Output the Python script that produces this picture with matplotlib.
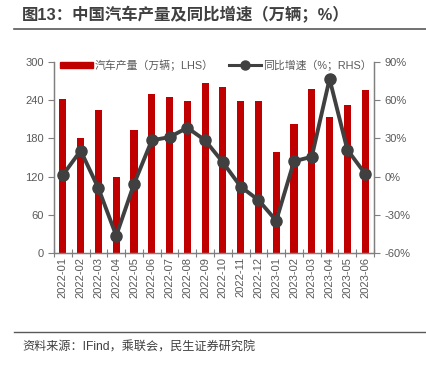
import matplotlib
matplotlib.use("Agg")
import matplotlib.pyplot as plt
import numpy as np
from matplotlib.lines import Line2D

plt.rcParams['font.family'] = ['Liberation Sans', 'Noto Sans CJK SC', 'DejaVu Sans']

months = ["2022-01", "2022-02", "2022-03", "2022-04", "2022-05", "2022-06",
          "2022-07", "2022-08", "2022-09", "2022-10", "2022-11", "2022-12",
          "2023-01", "2023-02", "2023-03", "2023-04", "2023-05", "2023-06"]
production = [242, 181, 224, 120, 193, 250, 245, 239, 267, 260, 238, 238,
              159, 203, 258, 213, 233, 256]
yoy = [1.3, 20.4, -9.2, -46.4, -5.8, 28.5, 31.0, 38.4, 28.5, 11.2, -7.9, -18.4,
       -34.6, 12.0, 15.6, 76.7, 21.1, 2.3]

bar_label = "汽车产量（万辆；LHS）"
line_label = "同比增速（%；RHS）"
title = "图13：中国汽车产量及同比增速（万辆；%）"
source = "资料来源：IFind，乘联会，民生证券研究院"

W, H = 427, 369
fig = plt.figure(figsize=(W / 100, H / 100), dpi=100)
ax = fig.add_axes([54 / W, 1 - 253 / H, (374 - 54) / W, (253 - 62) / H])
ax2 = ax.twinx()

x = np.arange(len(months))
grey = "#595959"
spine_c = "#7f7f7f"

ax.bar(x, production, width=0.4, color="#C00000", zorder=2)
ax.set_ylim(0, 300)
ax.set_yticks(np.arange(0, 301, 60))
ax.set_xlim(-0.5, len(months) - 0.5)
ax.set_xticks(x)
ax.set_xticklabels(months, rotation=90)
ax.set_xticks(np.arange(-0.5, len(months), 1), minor=True)
ax.tick_params(axis='x', which='major', length=0, labelsize=8, labelcolor=grey, pad=3)
ax.tick_params(axis='x', which='minor', length=6, direction='inout', color=spine_c, width=0.8)
ax.tick_params(axis='y', labelsize=8, labelcolor=grey, color=spine_c, length=4, width=0.8)

ax2.plot(x, yoy, color="#404040", lw=2.8, marker='o', markersize=8, zorder=3)
ax2.set_ylim(-60, 90)
ax2.set_yticks(np.arange(-60, 91, 30))
ax2.set_yticklabels([f"{v}%" for v in range(-60, 91, 30)])
ax2.tick_params(axis='y', labelsize=8, labelcolor=grey, color=spine_c, length=4, width=0.8)

for a in (ax, ax2):
    a.spines['top'].set_visible(False)
    for s in ('left', 'right', 'bottom'):
        a.spines[s].set_color(spine_c)
        a.spines[s].set_linewidth(0.9)

handles = [plt.Rectangle((0, 0), 1, 1, color="#C00000"),
           Line2D([0], [0], color="#404040", lw=2.2, marker='o', markersize=6.5)]
leg = ax2.legend(handles, [bar_label, line_label], ncol=2, frameon=False,
                 loc='center left', bbox_to_anchor=(6 / 320, 0.984), borderaxespad=0,
                 borderpad=0, fontsize=7.8, handlelength=3.0, handleheight=0.45,
                 columnspacing=1.4, handletextpad=0.2, labelcolor=grey)
ax2.set_zorder(ax.get_zorder() + 1)
ax.patch.set_visible(False)

fig.text(22 / W, 1 - 15 / H, title, fontsize=11.8, fontweight='bold', color="#404040",
         va='center', ha='left')
fig.add_artist(Line2D([14 / W, 1], [1 - 29 / H, 1 - 29 / H], color="#595959", lw=1.2))
fig.add_artist(Line2D([14 / W, 1], [1 - 332 / H, 1 - 332 / H], color="#595959", lw=1.0))
fig.text(22 / W, 1 - 348 / H, source, fontsize=8.7, color="#404040", va='center', ha='left')

fig.savefig("out.png", dpi=100)
